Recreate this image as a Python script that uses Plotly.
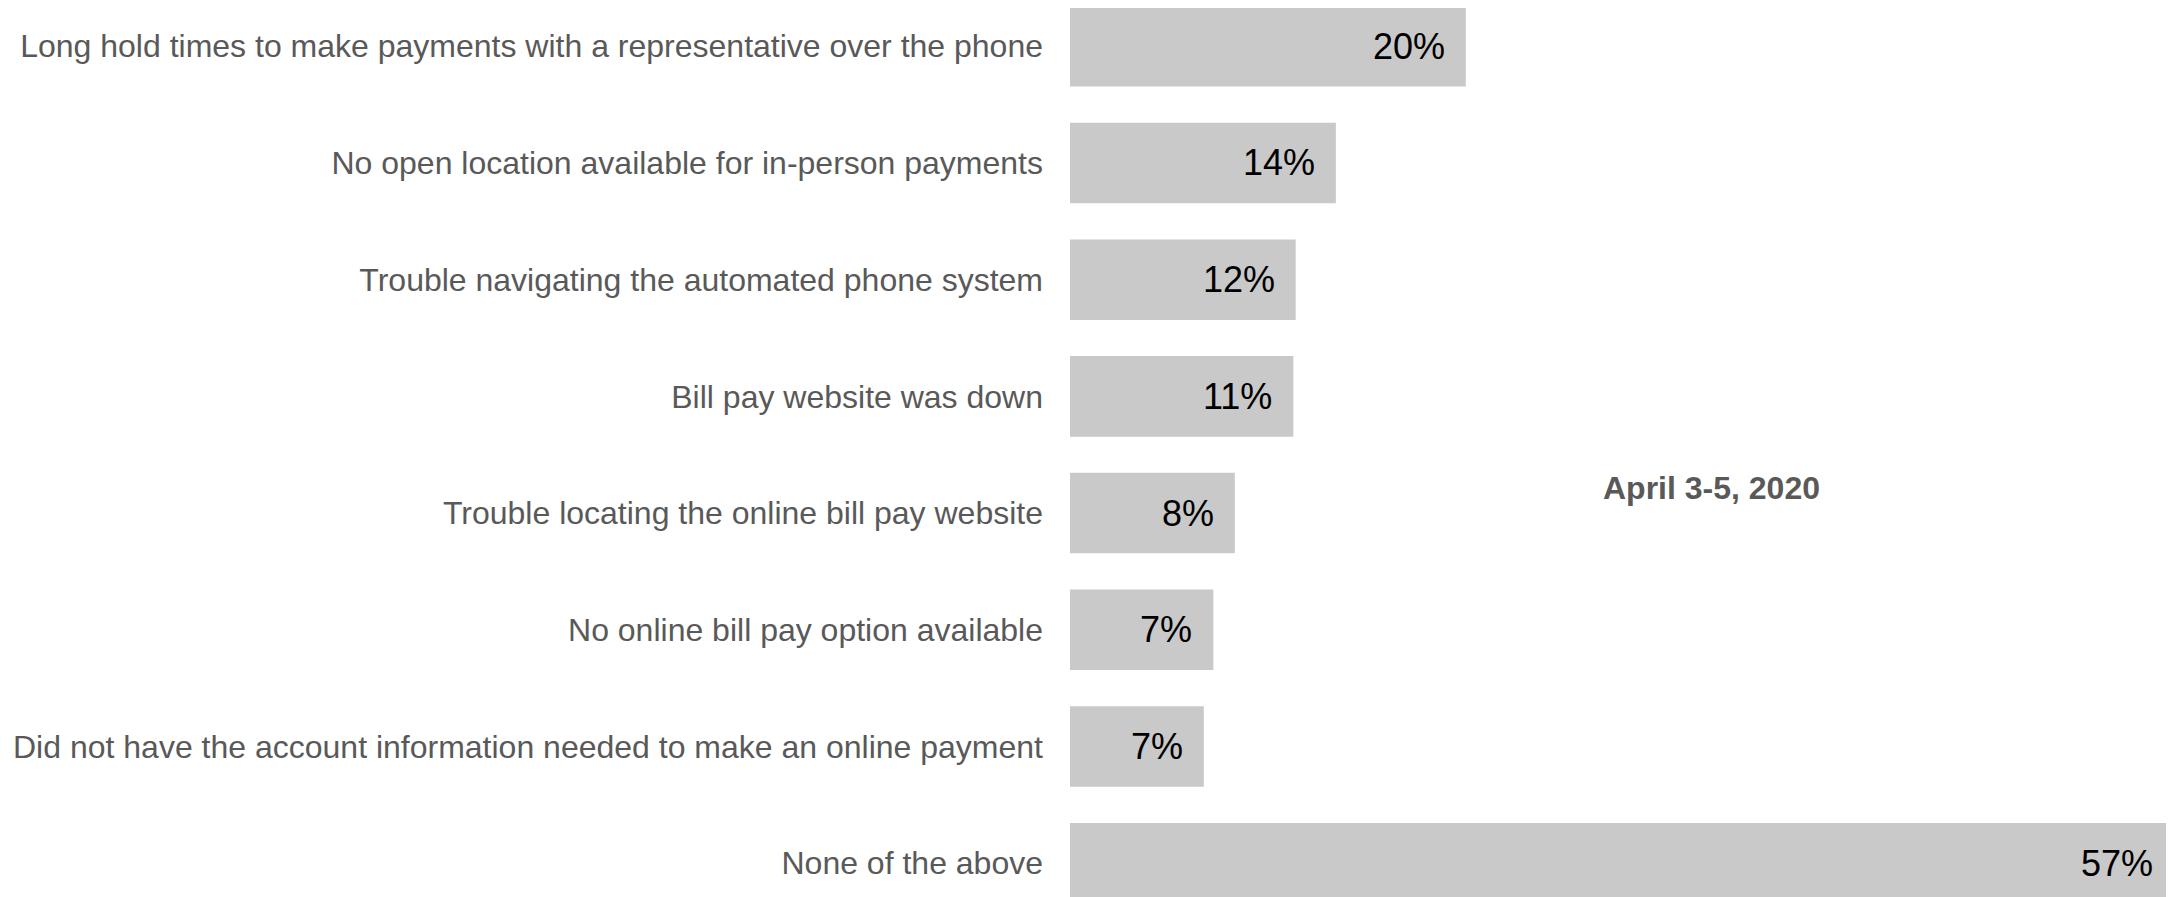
import plotly.graph_objects as go

CATEGORIES = [
    "Long hold times to make payments with a representative over the phone",
    "No open location available for in-person payments",
    "Trouble navigating the automated phone system",
    "Bill pay website was down",
    "Trouble locating the online bill pay website",
    "No online bill pay option available",
    "Did not have the account information needed to make an online payment",
    "None of the above",
]
VALUES = [20.29, 13.63, 11.57, 11.45, 8.45, 7.35, 6.86, 56.6]
SERIES_NAME = "April 3-5, 2020"

BAR_COLOR = "#c9c9c9"
LABEL_COLOR = "#595959"
FONT = "Arial, 'Liberation Sans', sans-serif"

fig = go.Figure(go.Bar(
    x=VALUES,
    y=CATEGORIES,
    orientation="h",
    marker=dict(color=BAR_COLOR, line=dict(width=0)),
    width=0.69,
    name=SERIES_NAME,
    hoverinfo="skip",
))

# value labels sit inside the bar end with a wide pad
annotations = [
    dict(x=v, y=c, xref="x", yref="y", text=f"{round(v)}%",
         showarrow=False, xanchor="right", xshift=-19,
         font=dict(family=FONT, size=36, color="#000000"))
    for c, v in zip(CATEGORIES, VALUES)
]
annotations.append(dict(
    x=0.581, y=0.46, xref="paper", yref="paper",
    text=f"<b>{SERIES_NAME}</b>", showarrow=False,
    font=dict(family=FONT, size=32, color=LABEL_COLOR),
))

# page body adds an 8px margin, so the figure is sized to fit inside it
fig.update_layout(
    width=2166,
    height=889,
    margin=dict(l=1062, r=0, t=0, b=0),
    paper_bgcolor="white",
    plot_bgcolor="white",
    showlegend=False,
    font=dict(family=FONT, color=LABEL_COLOR),
    annotations=annotations,
    xaxis=dict(range=[0, 56.6], visible=False, showgrid=False, zeroline=False),
    yaxis=dict(
        range=[7.29, -0.328],
        showgrid=False,
        zeroline=False,
        showline=False,
        ticks="",
        ticklabelstandoff=26,
        tickfont=dict(family=FONT, size=32, color=LABEL_COLOR),
    ),
)

fig.write_html("out.html")
